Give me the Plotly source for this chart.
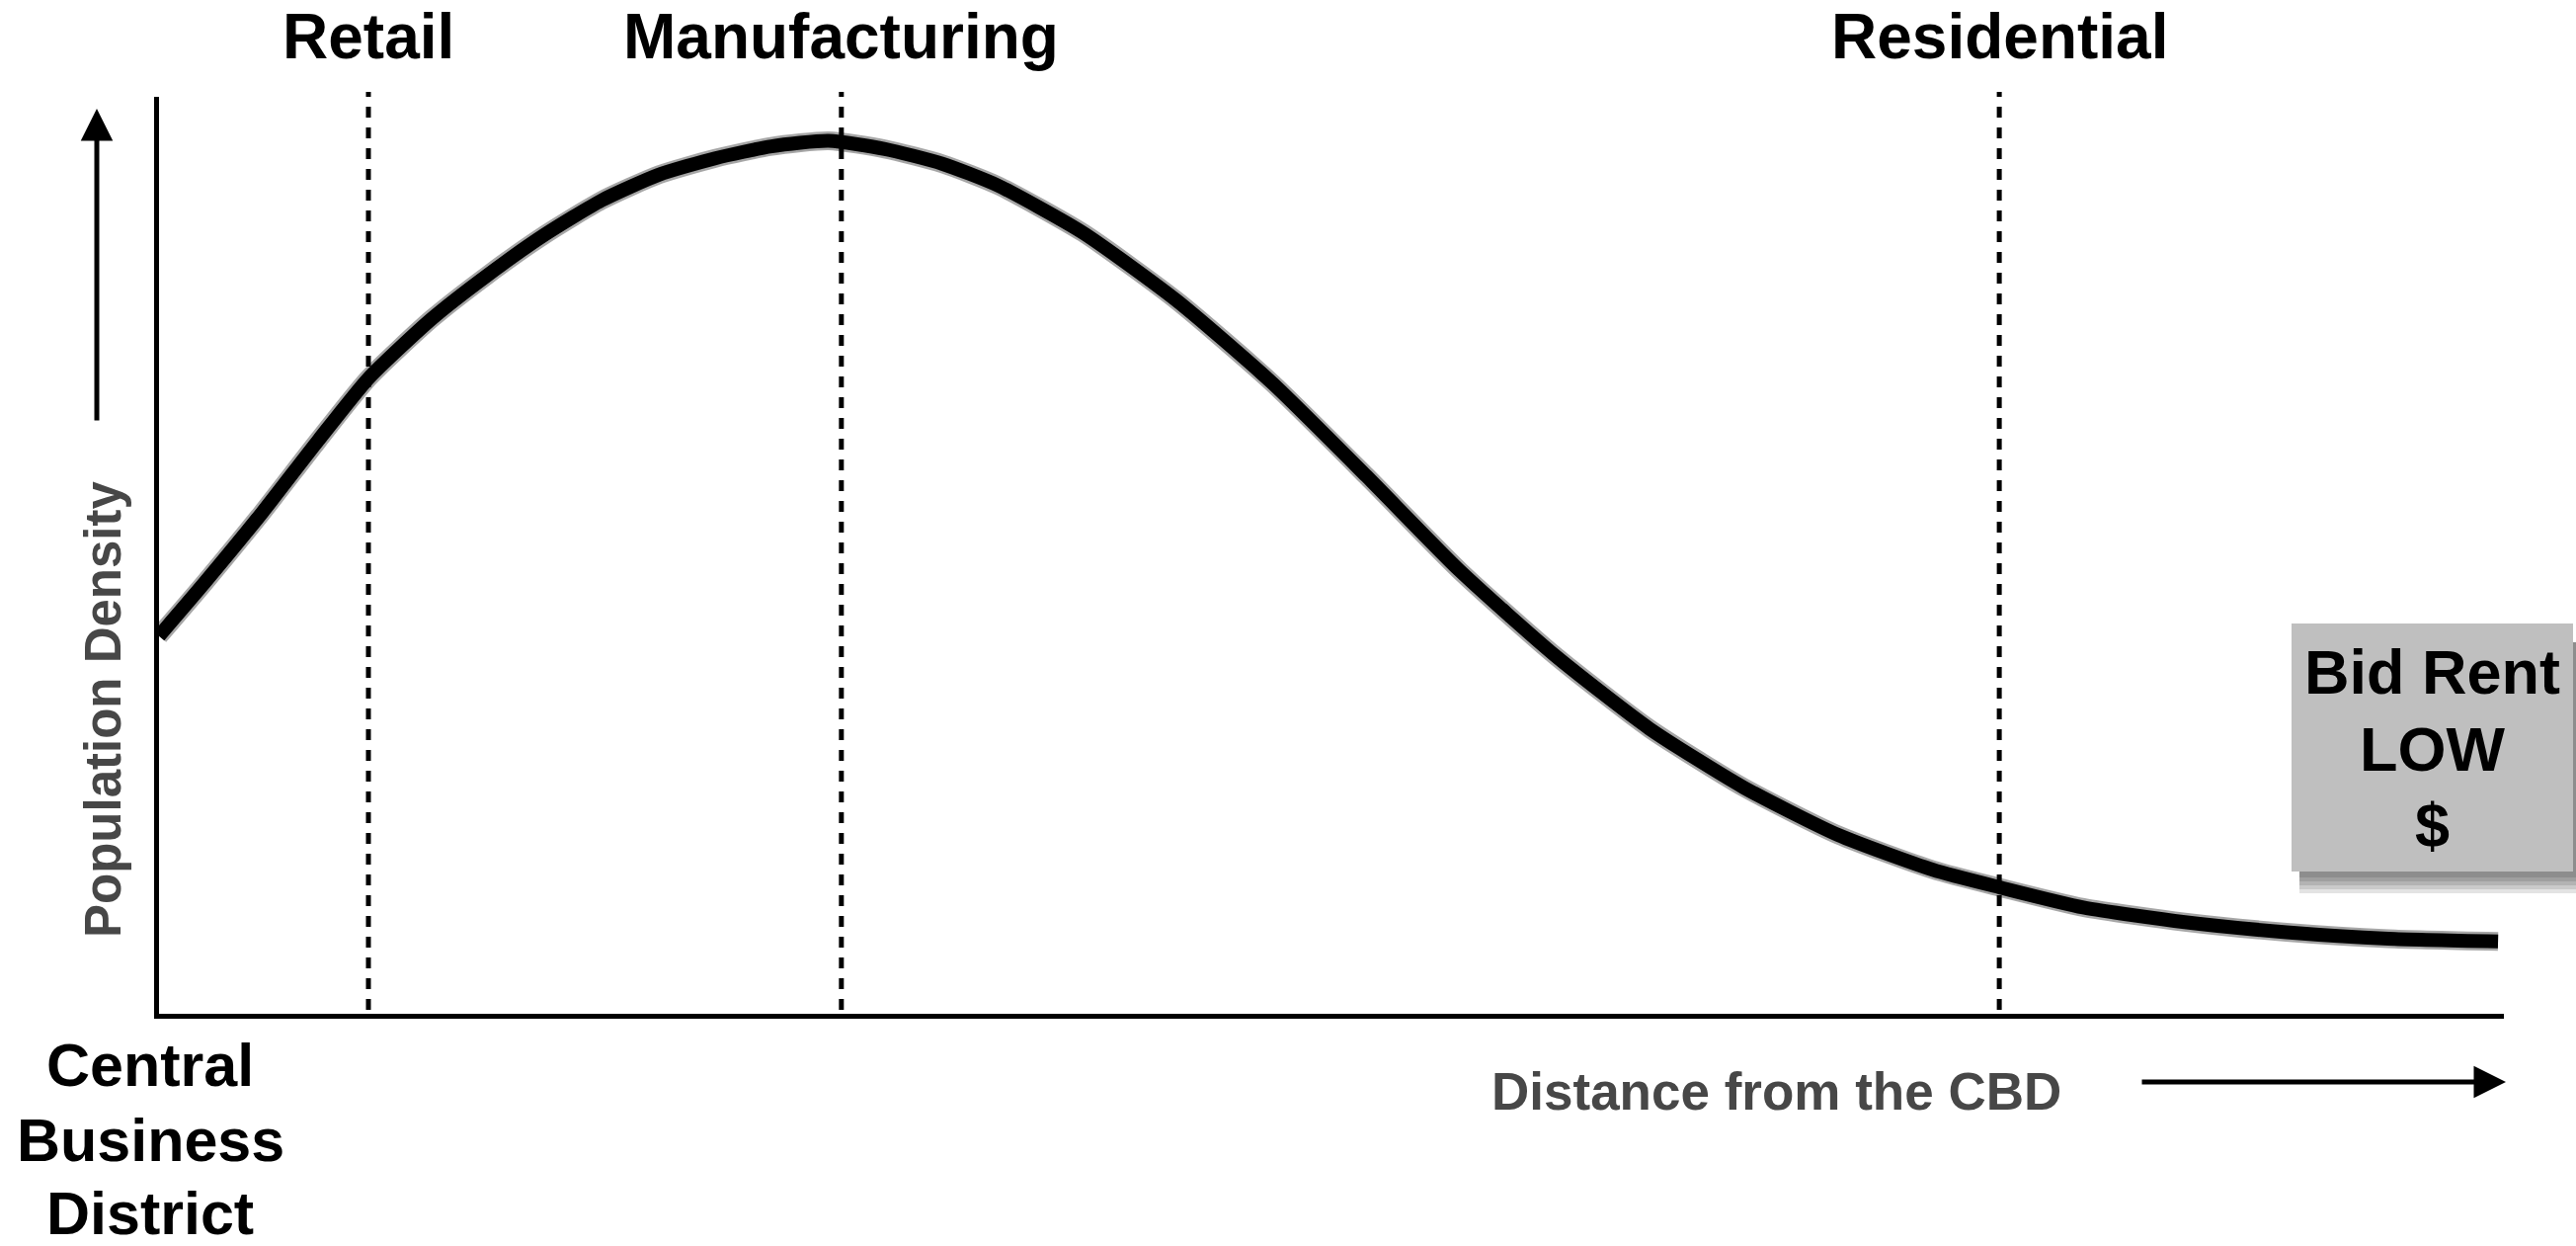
import plotly.graph_objects as go

#curva de densidade populacional (distância 0-100, densidade 0-100)
distancia = [0, 1.94, 4.38, 6.78, 8.93, 11.63, 14.03, 16.47, 18.87, 21.31, 23.72,
             26.12, 28.56, 30.96, 33.40, 35.80, 39.39, 43.39, 47.43, 51.47, 55.48,
             59.52, 63.56, 67.57, 71.61, 75.65, 78.48, 82.06, 86.39, 90.73, 95.07, 99.75]
densidade = [41.2, 47.0, 54.6, 62.5, 69.3, 75.8, 80.6, 85.0, 88.7, 91.5, 93.3,
             94.6, 95.2, 94.3, 92.7, 90.3, 85.2, 77.8, 68.9, 58.7, 48.3,
             39.1, 31.1, 24.7, 19.5, 15.7, 13.8, 11.6, 10.0, 8.9, 8.2, 7.9]

#zonas
zonas = ["Retail", "Manufacturing", "Residential"]
zonas_x = [8.93, 29.1, 78.48]

cbd_linhas = ["Central", "Business", "District"]
bid_rent_linhas = ["Bid Rent", "LOW", "$"]

W, H = 2608, 1261
L, R, T, B = 161, 2535, 98, 1026


def px_x(p):
    return (p - L) / (R - L)


def px_y(p):
    return (B - p) / (B - T)


FONTE = "Liberation Sans, Arial, Helvetica, sans-serif"
CINZA = "#474747"

fig = go.Figure()

fig.add_trace(go.Scatter(
    x=distancia, y=densidade, mode="lines",
    line=dict(color="rgba(0,0,0,0.35)", width=19, shape="spline", smoothing=0.6),
    hoverinfo="skip", showlegend=False
))
fig.add_trace(go.Scatter(
    x=distancia, y=densidade, mode="lines",
    line=dict(color="black", width=14, shape="spline", smoothing=0.6),
    showlegend=False
))

#linhas tracejadas das zonas
for nome, x in zip(zonas, zonas_x):
    fig.add_shape(type="line", xref="x", yref="paper", x0=x, x1=x,
                  y0=px_y(1022), y1=px_y(93),
                  line=dict(color="black", width=5, dash="11px,10px"))
    fig.add_annotation(x=x, xref="x", y=px_y(37), yref="paper", text=nome,
                       showarrow=False, xanchor="center", yanchor="middle",
                       font=dict(family=FONTE, size=64, color="black", weight="bold"))

#CBD
for linha, y in zip(cbd_linhas, [1078, 1154, 1228]):
    fig.add_annotation(x=px_x(152), xref="paper", y=px_y(y), yref="paper", text=linha,
                       showarrow=False, xanchor="center", yanchor="middle",
                       font=dict(family=FONTE, size=61, color="black", weight="bold"))

#rótulos dos eixos
fig.add_annotation(x=px_x(104), xref="paper", y=px_y(718), yref="paper",
                   text="Population Density", textangle=-90, showarrow=False,
                   xanchor="center", yanchor="middle",
                   font=dict(family=FONTE, size=51, color=CINZA, weight="bold"))
fig.add_annotation(x=px_x(1798), xref="paper", y=px_y(1104), yref="paper",
                   text="Distance from the CBD", showarrow=False,
                   xanchor="center", yanchor="middle",
                   font=dict(family=FONTE, size=53, color=CINZA, weight="bold"))

#setas
fig.add_annotation(x=px_x(98), xref="paper", y=px_y(110), yref="paper", text="",
                   showarrow=True, ax=0, ay=317, arrowhead=2, arrowsize=1.3,
                   arrowwidth=5, arrowcolor="black", standoff=0)
fig.add_annotation(x=px_x(2537), xref="paper", y=px_y(1095), yref="paper", text="",
                   showarrow=True, ax=-370, ay=0, arrowhead=2, arrowsize=1.3,
                   arrowwidth=5, arrowcolor="black", standoff=0)

#caixa Bid Rent com sombra
for k in [22, 18, 14, 10, 6]:
    fig.add_shape(type="rect", xref="paper", yref="paper",
                  x0=px_x(2328), x1=px_x(2608), y0=px_y(882 + k), y1=px_y(650),
                  fillcolor="rgba(0,0,0,0.11)", line=dict(width=0))
fig.add_shape(type="rect", xref="paper", yref="paper",
              x0=px_x(2320), x1=px_x(2605), y0=px_y(882), y1=px_y(631),
              fillcolor="#bfbfbf", line=dict(width=0))
for linha, y in zip(bid_rent_linhas, [680, 758, 835]):
    fig.add_annotation(x=px_x(2462), xref="paper", y=px_y(y), yref="paper", text=linha,
                       showarrow=False, xanchor="center", yanchor="middle",
                       font=dict(family=FONTE, size=63, color="black", weight="bold"))

fig.update_layout(
    width=W, height=H,
    margin=dict(l=L, r=W - R, t=T, b=H - B),
    plot_bgcolor="white", paper_bgcolor="white",
    xaxis=dict(range=[0, 100], showgrid=False, zeroline=False, showticklabels=False,
               ticks="", showline=True, linewidth=5, linecolor="black", fixedrange=True),
    yaxis=dict(range=[0, 100], showgrid=False, zeroline=False, showticklabels=False,
               ticks="", showline=True, linewidth=5, linecolor="black", fixedrange=True),
    showlegend=False,
)

fig.write_html("out.html", config={"displayModeBar": False},
               post_script="document.body.style.margin='0';document.body.style.overflow='hidden';")
